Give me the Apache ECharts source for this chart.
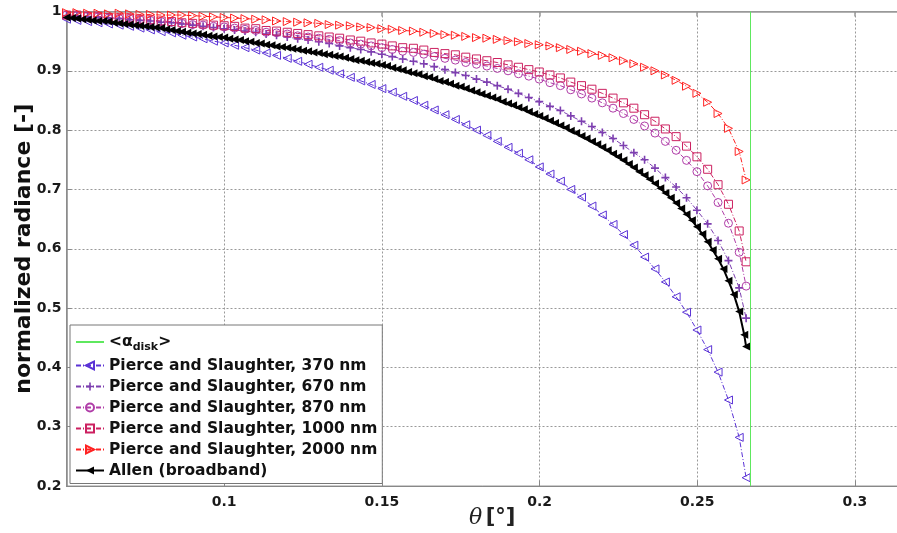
<!DOCTYPE html>
<html><head><meta charset="utf-8">
<script src="https://cdn.jsdelivr.net/npm/echarts@6/dist/echarts.min.js"></script>
<style>html,body{margin:0;padding:0;background:#fff}#c{width:897px;height:533px}</style>
</head><body><div id="c"></div>
<script>
// angular distance from disk centre [deg]
const theta = [0.0500,0.0533,0.0567,0.0600,0.0633,0.0667,0.0700,0.0733,0.0766,0.0800,0.0833,0.0866,0.0900,0.0933,0.0966,0.1000,0.1033,0.1066,0.1100,0.1133,0.1166,0.1200,0.1233,0.1266,0.1300,0.1333,0.1366,0.1400,0.1433,0.1466,0.1500,0.1533,0.1566,0.1600,0.1633,0.1666,0.1700,0.1733,0.1766,0.1800,0.1833,0.1866,0.1900,0.1933,0.1966,0.1999,0.2033,0.2066,0.2099,0.2133,0.2166,0.2199,0.2233,0.2266,0.2299,0.2333,0.2366,0.2399,0.2433,0.2466,0.2499,0.2533,0.2566,0.2599,0.2633,0.2655];
const ps370 = [.987,.985,.983,.981,.979,.977,.975,.972,.969,.966,.964,.960,.957,.954,.950,.947,.943,.939,.935,.930,.926,.921,.916,.911,.906,.901,.895,.889,.883,.877,.870,.864,.857,.850,.842,.834,.826,.818,.809,.800,.791,.781,.771,.761,.750,.738,.726,.714,.700,.687,.672,.657,.641,.624,.606,.586,.566,.544,.519,.493,.463,.430,.392,.345,.282,.214];
const ps670 = [.993,.992,.991,.990,.989,.988,.986,.985,.984,.982,.981,.979,.977,.975,.973,.971,.969,.967,.965,.962,.960,.957,.954,.952,.949,.946,.942,.939,.936,.932,.928,.924,.920,.916,.912,.907,.902,.897,.892,.886,.881,.875,.869,.862,.855,.848,.840,.833,.824,.815,.806,.796,.786,.774,.762,.750,.736,.720,.704,.686,.665,.642,.614,.580,.534,.483];
const ps870 = [.994,.993,.992,.991,.989,.988,.988,.986,.985,.983,.982,.980,.978,.977,.975,.974,.972,.970,.968,.965,.964,.962,.959,.957,.955,.953,.951,.947,.945,.942,.939,.936,.933,.931,.928,.924,.921,.918,.914,.911,.908,.904,.900,.895,.891,.886,.880,.875,.868,.861,.854,.846,.837,.828,.818,.807,.795,.781,.766,.749,.730,.706,.678,.643,.594,.537];
const ps1000 = [.994,.994,.992,.992,.990,.989,.989,.987,.986,.984,.983,.981,.980,.979,.977,.976,.975,.972,.971,.968,.967,.965,.963,.961,.959,.957,.955,.952,.950,.947,.945,.942,.939,.938,.935,.931,.929,.927,.923,.920,.917,.914,.910,.906,.902,.898,.893,.888,.881,.875,.869,.862,.854,.846,.837,.826,.815,.802,.789,.773,.755,.734,.708,.675,.630,.578];
const ps2000 = [.998,.998,.997,.997,.996,.997,.996,.995,.995,.994,.994,.994,.993,.992,.991,.990,.989,.988,.987,.986,.984,.983,.982,.981,.980,.978,.977,.976,.974,.973,.971,.970,.968,.967,.965,.963,.961,.960,.958,.956,.955,.953,.951,.949,.946,.944,.942,.939,.936,.933,.929,.926,.922,.917,.912,.906,.900,.893,.884,.874,.862,.847,.828,.803,.764,.716];
const thetaAllen = [0.0500,0.0517,0.0533,0.0550,0.0567,0.0583,0.0600,0.0617,0.0633,0.0650,0.0667,0.0683,0.0700,0.0717,0.0733,0.0750,0.0766,0.0783,0.0800,0.0816,0.0833,0.0850,0.0866,0.0883,0.0900,0.0916,0.0933,0.0950,0.0966,0.0983,0.1000,0.1016,0.1033,0.1050,0.1066,0.1083,0.1100,0.1116,0.1133,0.1150,0.1166,0.1183,0.1200,0.1216,0.1233,0.1250,0.1266,0.1283,0.1300,0.1316,0.1333,0.1350,0.1366,0.1383,0.1400,0.1416,0.1433,0.1450,0.1466,0.1483,0.1500,0.1516,0.1533,0.1550,0.1566,0.1583,0.1600,0.1616,0.1633,0.1650,0.1666,0.1683,0.1700,0.1716,0.1733,0.1750,0.1766,0.1783,0.1800,0.1816,0.1833,0.1850,0.1866,0.1883,0.1900,0.1916,0.1933,0.1950,0.1966,0.1983,0.1999,0.2016,0.2033,0.2049,0.2066,0.2083,0.2099,0.2116,0.2133,0.2149,0.2166,0.2183,0.2199,0.2216,0.2233,0.2249,0.2266,0.2283,0.2299,0.2316,0.2333,0.2349,0.2366,0.2383,0.2399,0.2416,0.2433,0.2449,0.2466,0.2483,0.2499,0.2516,0.2533,0.2549,0.2566,0.2583,0.2599,0.2616,0.2633,0.2649,0.2655];
const allen = [.990,.989,.988,.987,.986,.985,.984,.984,.983,.981,.980,.979,.978,.977,.976,.975,.974,.973,.972,.970,.969,.967,.966,.964,.963,.962,.961,.959,.958,.957,.956,.954,.953,.952,.950,.949,.947,.946,.944,.943,.941,.940,.939,.937,.936,.934,.933,.931,.930,.928,.927,.925,.924,.922,.920,.918,.917,.915,.913,.912,.910,.908,.905,.903,.901,.898,.896,.894,.891,.889,.886,.883,.881,.878,.875,.873,.870,.867,.864,.861,.858,.855,.852,.848,.845,.842,.838,.835,.831,.827,.824,.820,.816,.812,.808,.804,.799,.795,.790,.786,.781,.776,.771,.766,.760,.755,.749,.743,.737,.730,.724,.717,.710,.702,.694,.686,.677,.668,.658,.648,.637,.625,.612,.598,.583,.566,.546,.523,.494,.455,.435];
const alphaDisk = 0.2668;
const xTicks = {min: 0.05, max: 0.32, step: 0.05};
const yTicks = {min: 0.2, max: 1.0, step: 0.1};

const names = ['disk','Pierce and Slaughter, 370 nm','Pierce and Slaughter, 670 nm','Pierce and Slaughter, 870 nm','Pierce and Slaughter, 1000 nm','Pierce and Slaughter, 2000 nm','Allen (broadband)'];
const pair = (xs, ys) => xs.map((x, i) => [x, ys[i]]);
const dashDot = [5, 2, 1, 2];
const FONT = 'DejaVu Sans';
const GREEN = '#5ee85e';

function psSeries(name, data, color, symbol, rotate, filled) {
  return {
    name, type: 'line', data, symbol, symbolSize: 8, symbolRotate: rotate,
    lineStyle: {color, width: 1, type: dashDot},
    itemStyle: filled ? {color} : {color: 'rgba(255,255,255,0)', borderColor: color, borderWidth: 1},
    animation: false, z: 3
  };
}

const chart = echarts.init(document.getElementById('c'), null, {renderer: 'canvas'});
chart.setOption({
  backgroundColor: '#fff',
  animation: false,
  grid: {left: 66.5, top: 11.5, bottom: 47, right: -21, show: true, borderColor: '#999', borderWidth: 1,
         containLabel: false, outerBoundsMode: 'none'},
  xAxis: [{
    type: 'value', min: xTicks.min, max: xTicks.max, interval: xTicks.step,
    name: '{it|θ} {b|[°]}', nameLocation: 'middle', nameGap: 21, nameMoveOverlap: false,
    nameTextStyle: {rich: {it: {fontFamily: 'DejaVu Serif', fontStyle: 'italic', fontSize: 22, color: '#222'}, b: {fontFamily: FONT, fontWeight: 'bold', fontSize: 21, color: '#222'}}},
    axisLine: {show: true, lineStyle: {color: '#888', width: 1}},
    axisTick: {show: true, inside: true, length: 5, lineStyle: {color: '#888'}},
    axisLabel: {showMinLabel: false, showMaxLabel: false, fontFamily: FONT, fontWeight: 'bold', fontSize: 14, color: '#1a1a1a', margin: 9},
    splitLine: {show: true, lineStyle: {color: '#999', type: [2, 2], width: 1}}
  }, {
    type: 'value', position: 'top', min: xTicks.min, max: xTicks.max, interval: xTicks.step,
    axisLine: {show: true, lineStyle: {color: '#999', width: 1.5}},
    axisTick: {show: true, inside: true, length: 5, lineStyle: {color: '#999', width: 1.5}},
    axisLabel: {show: false}, splitLine: {show: false}
  }],
  yAxis: {
    type: 'value', min: yTicks.min, max: yTicks.max, interval: yTicks.step,
    name: 'normalized radiance [-]', nameLocation: 'middle', nameGap: 31, nameMoveOverlap: false,
    nameTextStyle: {fontFamily: FONT, fontWeight: 'bold', fontSize: 22, color: '#111'},
    axisLine: {show: true, lineStyle: {color: '#888', width: 1.5}},
    axisTick: {show: true, inside: true, length: 5, lineStyle: {color: '#888'}},
    axisLabel: {fontFamily: FONT, fontWeight: 'bold', fontSize: 14, color: '#1a1a1a', margin: 5},
    splitLine: {show: true, lineStyle: {color: '#999', type: [2, 2], width: 1}}
  },
  legend: {
    orient: 'vertical', left: 70, top: 325, itemGap: 5, itemWidth: 28, itemHeight: 10,
    backgroundColor: '#fff', borderColor: '#777', borderWidth: 1, padding: [9, 5, 5, 5],
    data: [{name: 'disk', itemStyle: {opacity: 0}}].concat(names.slice(1)),
    formatter: n => n === 'disk' ? '{b|<α}{s|disk}{b|>}' : n,
    textStyle: {fontFamily: FONT, fontWeight: 'bold', fontSize: 15.5, color: '#111',
      rich: {b: {fontFamily: FONT, fontWeight: 'bold', fontSize: 15.5, color: '#111'},
             s: {fontFamily: FONT, fontWeight: 'bold', fontSize: 11, color: '#111', padding: [10, 0, 0, 0]}}}
  },
  series: [
    {name: 'disk', type: 'line', data: [], symbol: 'none',
     lineStyle: {color: GREEN, width: 1}, itemStyle: {color: GREEN}, z: 2, animation: false,
     markLine: {silent: true, symbol: 'none', precision: 4, label: {show: false}, animation: false,
                lineStyle: {color: GREEN, width: 1, type: 'solid'}, data: [{xAxis: alphaDisk}]}},
    psSeries(names[1], pair(theta, ps370), '#5b33d6', 'triangle', 90, false),
    psSeries(names[2], pair(theta, ps670), '#7d3fb0', 'path://M4,0H6V4H10V6H6V10H4V6H0V4H4Z', 0, true),
    psSeries(names[3], pair(theta, ps870), '#b03da8', 'circle', 0, false),
    psSeries(names[4], pair(theta, ps1000), '#cc2060', 'rect', 0, false),
    psSeries(names[5], pair(theta, ps2000), '#ff2222', 'triangle', -90, false),
    {name: names[6], type: 'line', data: pair(thetaAllen, allen), symbol: 'triangle', symbolRotate: 90, symbolSize: 8,
     lineStyle: {color: '#000', width: 2}, itemStyle: {color: '#000'}, z: 4, animation: false}
  ]
});
</script></body></html>
